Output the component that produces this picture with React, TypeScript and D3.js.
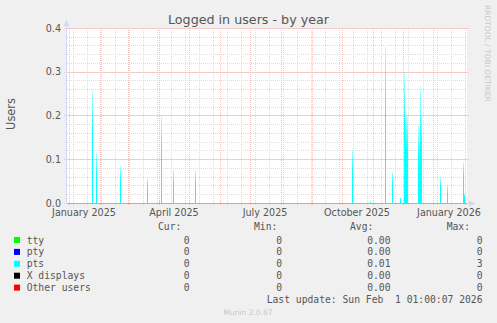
import React from "react";
import * as d3 from "d3";

const W = 497;
const H = 323;

// axis / tick data
const yTicks = [0, 0.1, 0.2, 0.3, 0.4];
const yTickLabels = ["0.0", "0.1", "0.2", "0.3", "0.4"];
const xLabelDates = ["2025-01-01", "2025-04-01", "2025-07-01", "2025-10-01", "2026-01-01"];
const xLabels = ["January 2025", "April 2025", "July 2025", "October 2025", "January 2026"];

// pts series (daily averages, non-zero days only)
const ptsDates = [
  "2025-01-24", "2025-01-28", "2025-02-21", "2025-03-20", "2025-04-01", "2025-04-03",
  "2025-04-15", "2025-05-07", "2025-10-11", "2025-10-29", "2025-11-13", "2025-11-20",
  "2025-11-28", "2025-12-02", "2025-12-03", "2025-12-04", "2025-12-05", "2025-12-16",
  "2025-12-17", "2025-12-18", "2025-12-19", "2026-01-07", "2026-01-14", "2026-01-30",
  "2026-01-31",
];
const ptsValues = [
  0.26, 0.114, 0.085, 0.059, 0.005, 0.198,
  0.076, 0.076, 0.122, 0.004, 0.358, 0.072,
  0.014, 0.3, 0.21, 0.2, 0.2, 0.179,
  0.14, 0.263, 0.2, 0.061, 0.042, 0.095,
  0.023,
];

// legend
const legendNames = ["tty", "pty", "pts", "X displays", "Other users"];
const legendColors = ["#00ff00", "#0000ff", "#00ffff", "#000000", "#ff0000"];
const curValues = ["0", "0", "0", "0", "0"];
const minValues = ["0", "0", "0", "0", "0"];
const avgValues = ["0.00", "0.00", "0.01", "0.00", "0.00"];
const maxValues = ["0", "0", "3", "0", "0"];

const DAY = 86400000;
const parse = (s: string) => new Date(s + "T00:00:00Z");

export default function App() {
  const jan1 = parse("2025-01-01").getTime();
  const start = new Date(jan1 - 2 * DAY);
  const end = new Date(start.getTime() + 400 * DAY);
  const x = d3.scaleUtc().domain([start, end]).range([67, 467]);
  const y = d3.scaleLinear().domain([0, 0.4]).range([203.3, 28.3]);
  const crisp = (v: number) => Math.round(v - 0.5) + 0.5;

  const monthTicks = d3.utcMonth.range(start, end);
  const minorTicks = d3.utcDay.range(parse("2025-01-05"), end, 14);
  const yMinor = d3.range(0, 0.4001, 0.02);

  const sans = "DejaVu Sans, Verdana, sans-serif";
  const mono = "DejaVu Sans Mono, monospace";
  const fontColor = "#555";
  const minorColor = "#dcdcdc";
  const majorColor = "#f0c2c2";

  const rowBase = [243.5, 255.4, 267.3, 279.2, 291.1];

  return (
    <svg width={W} height={H} style={{ position: "absolute", left: 0, top: 0 }}>
      <defs>
        <linearGradient id="spike" x1="0" y1="1" x2="0" y2="0">
          <stop offset="0" stopColor="#00ffff" stopOpacity={1} />
          <stop offset="0.6" stopColor="#00ffff" stopOpacity={0.95} />
          <stop offset="1" stopColor="#00ffff" stopOpacity={0.3} />
        </linearGradient>
      </defs>
      <rect x={0} y={0} width={W} height={H} fill="#f0f0f0" />
      <rect x={67} y={28} width={400} height={175.5} fill="#ffffff" />

      {/* minor grid */}
      {yMinor.map((v, i) => (
        <line key={"ym" + i} x1={67} x2={467} y1={crisp(y(v))} y2={crisp(y(v))}
          stroke={minorColor} strokeDasharray="1,1" strokeWidth={1} />
      ))}
      {minorTicks.map((d, i) => (
        <line key={"xm" + i} x1={crisp(x(d))} x2={crisp(x(d))} y1={28} y2={205}
          stroke={minorColor} strokeDasharray="1,1" strokeWidth={1} />
      ))}

      {/* major grid */}
      {yTicks.map((v, i) => (
        <line key={"yM" + i} x1={64} x2={469} y1={crisp(y(v))} y2={crisp(y(v))}
          stroke={majorColor} strokeDasharray="1,1" strokeWidth={1} />
      ))}
      {monthTicks.map((d, i) => (
        <line key={"xM" + i} x1={crisp(x(d))} x2={crisp(x(d))} y1={28} y2={206}
          stroke={majorColor} strokeDasharray="1,1" strokeWidth={1} />
      ))}

      {/* pts spikes */}
      {ptsDates.map((ds, i) => {
        const d0 = parse(ds);
        const d1 = new Date(d0.getTime() + DAY);
        const x0 = x(d0);
        const x1 = x(d1);
        const yt = y(ptsValues[i]);
        return (
          <rect key={"p" + i} x={x0} y={yt} width={x1 - x0} height={y(0) - yt}
            fill="url(#spike)" />
        );
      })}

      {/* axes */}
      <line x1={66.5} x2={66.5} y1={24} y2={204} stroke="#cfd6f8" />
      <path d="M63.5,26 L66.5,20 L69.5,26 Z" fill="#cfd6f8" />
      <line x1={66} x2={470} y1={203.5} y2={203.5} stroke="#cfd6f8" />
      <path d="M469,200.5 L475,203.5 L469,206.5 Z" fill="#cfd6f8" />
      <line x1={67} x2={467} y1={203.5} y2={203.5} stroke="#e89a9a" strokeWidth={1.2} />

      {/* y tick labels */}
      {yTicks.map((v, i) => (
        <text key={"yl" + i} x={61} y={y(v) + 3.2} textAnchor="end" fontFamily={sans}
          fontSize={9.6} fill={fontColor}>{yTickLabels[i]}</text>
      ))}
      {/* x labels (centred mid-month) */}
      {xLabelDates.map((ds, i) => (
        <text key={"xl" + i} x={x(new Date(parse(ds).getTime() + 15 * DAY))} y={215.7}
          textAnchor="middle" fontFamily={sans} fontSize={9.6} fill={fontColor}>{xLabels[i]}</text>
      ))}

      {/* title */}
      <text x={248.5} y={24} textAnchor="middle" fontFamily={sans} fontSize={12.7} fill={fontColor}>
        Logged in users - by year
      </text>
      <text transform="translate(15,114) rotate(-90)" textAnchor="middle" fontFamily={sans}
        fontSize={11.4} fill={fontColor}>Users</text>
      <text transform="translate(485,5) rotate(90)" textAnchor="start" fontFamily={sans}
        fontSize={7.5} fill="#c8c8c8">RRDTOOL / TOBI OETIKER</text>

      {/* legend */}
      <g fontFamily={mono} fontSize={9.7} fill={fontColor}>
        <text x={158} y={230}>Cur:</text>
        <text x={254} y={230}>Min:</text>
        <text x={350} y={230}>Avg:</text>
        <text x={446.7} y={230}>Max:</text>
        {legendNames.map((n, i) => (
          <g key={"lg" + i}>
            <rect x={14} y={rowBase[i] - 6.5} width={6} height={6} fill={legendColors[i]} />
            <text x={26.7} y={rowBase[i]}>{n}</text>
            <text x={189.5} y={rowBase[i]} textAnchor="end">{curValues[i]}</text>
            <text x={282} y={rowBase[i]} textAnchor="end">{minValues[i]}</text>
            <text x={390.5} y={rowBase[i]} textAnchor="end">{avgValues[i]}</text>
            <text x={482.5} y={rowBase[i]} textAnchor="end">{maxValues[i]}</text>
          </g>
        ))}
        <text x={482.5} y={303.3} textAnchor="end" xmlSpace="preserve" style={{ whiteSpace: "pre" }}>
          {"Last update: Sun Feb  1 01:00:07 2026"}
        </text>
      </g>
      <text x={248} y={315} textAnchor="middle" fontFamily={sans} fontSize={7.5} fill="#c8c8c8">
        Munin 2.0.67
      </text>
    </svg>
  );
}
